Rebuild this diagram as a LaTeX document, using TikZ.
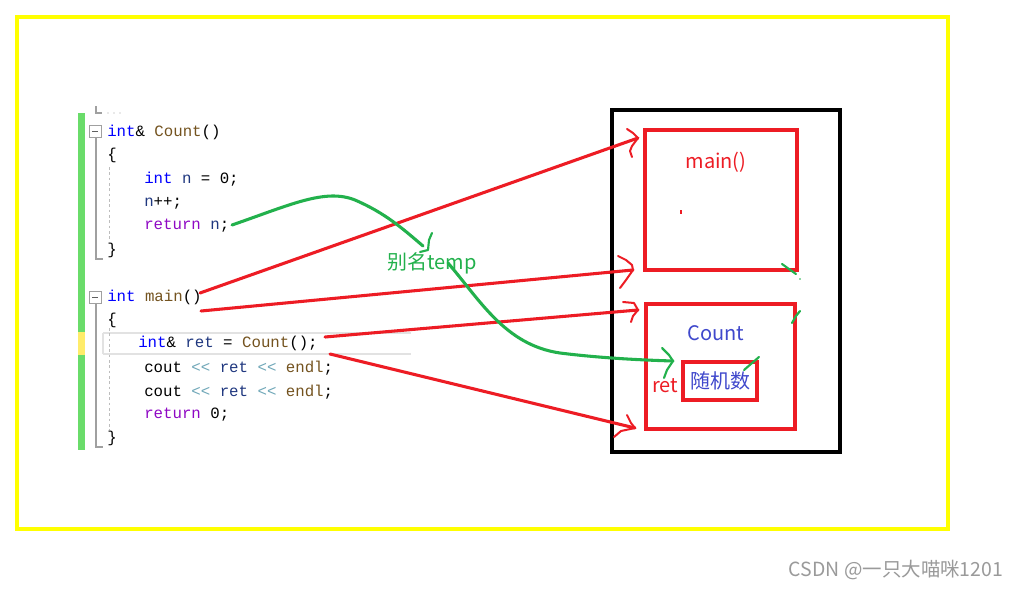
\documentclass[tikz,border=0pt]{standalone}
\usepackage{fontspec}
\setmonofont{Liberation Mono}
\newfontfamily\cjk{Noto Sans CJK SC}
\definecolor{frameyellow}{HTML}{FFFF00}
\definecolor{pred}{HTML}{ED1C24}
\definecolor{pgreen}{HTML}{22B14C}
\definecolor{pblue}{HTML}{3F48CC}
\definecolor{kwblue}{HTML}{0000FF}
\definecolor{fnbrown}{HTML}{74531F}
\definecolor{retpurple}{HTML}{8F08C4}
\definecolor{varnavy}{HTML}{1F377F}
\definecolor{opteal}{HTML}{6FA7B8}
\definecolor{barGreen}{HTML}{6ADC6A}
\definecolor{barYellow}{HTML}{FFEC6A}
\definecolor{guide}{HTML}{A0A0A0}
\definecolor{wm}{HTML}{9A9A9A}
\newcommand\ckw[1]{\textcolor{kwblue}{#1}}
\newcommand\cfn[1]{\textcolor{fnbrown}{#1}}
\newcommand\crt[1]{\textcolor{retpurple}{#1}}
\newcommand\cvr[1]{\textcolor{varnavy}{#1}}
\newcommand\cop{\textcolor{opteal}{<\kern0pt<}}
\tikzset{
  code/.style={anchor=west,inner sep=0pt,font=\fontsize{11.8}{13}\selectfont\ttfamily},
  lbl/.style={inner sep=0pt,font=\cjk\fontsize{15}{17}\selectfont},
  redbox/.style={draw=pred,line width=2.6pt},
  redarrow/.style={draw=pred,line width=2.3pt,line cap=round,line join=round},
  redhead/.style={draw=pred,line width=1.5pt,line cap=round,line join=round},
  greenline/.style={draw=pgreen,line width=2.3pt,line cap=round,line join=round},
  greenhead/.style={draw=pgreen,line width=1.6pt,line cap=round,line join=round},
  guideline/.style={draw=guide,line width=0.8pt},
  dguide/.style={draw=guide!70,line width=0.6pt,dash pattern=on 2pt off 2pt},
  foldbox/.style={draw=guide,line width=0.7pt,fill=white,minimum size=9pt,inner sep=0pt}
}
\begin{document}
\begin{tikzpicture}[x=0.75pt,y=-0.75pt]
\useasboundingbox (0,0) rectangle (1021,589);
\fill[white] (0,0) rectangle (1021,589);
% outer yellow frame
\draw[frameyellow,line width=2.3pt] (17,17) rectangle (948,529);

% editor gutter
\fill[barGreen] (78,113) rectangle (85,450);
\fill[barYellow] (78,332) rectangle (85,355);
% current-line highlight
\draw[guide!30,line width=1.4pt] (103,333) -- (411,333);
\draw[guide!30,line width=1.4pt] (103,354) -- (411,354);
\draw[guide!30,line width=1.4pt] (103,333) -- (103,354);
% structure guides
\draw[guideline] (96,106) -- (96,113) -- (102,113);
\fill[guide] (108,113) circle (0.7) (114,113) circle (0.7) (120,113) circle (0.7);
\draw[guideline] (96,138) -- (96,259) -- (103,259);
\draw[guideline] (96,304) -- (96,447) -- (103,447);
\draw[dguide] (109,167) -- (109,241);
\draw[dguide] (109,328) -- (109,430);
\node[foldbox] (f1) at (95,131) {};
\draw[guide!60!black,line width=0.7pt] (92,131) -- (98,131);
\node[foldbox] (f2) at (95,297) {};
\draw[guide!60!black,line width=0.7pt] (92,297) -- (98,297);

% code
\node[code] (c1) at (107,132) {\ckw{int}\& \cfn{Count}()};
\node[code] (c2) at (107,155) {\{};
\node[code] (c3) at (144,179) {\ckw{int} \cvr{n} = 0;};
\node[code] (c4) at (144,203) {\cvr{n}++;};
\node[code] (c5) at (144,226) {\crt{return} \cvr{n};};
\node[code] (c6) at (107,250) {\}};
\node[code] (c7) at (107,297) {\ckw{int} \cfn{main}()};
\node[code] (c8) at (107,320) {\{};
\node[code] (c9) at (138,343) {\ckw{int}\& \cvr{ret} = \cfn{Count}();};
\node[code] (c10) at (144,368) {cout \cop{} \cvr{ret} \cop{} \cfn{endl};};
\node[code] (c11) at (144,392) {cout \cop{} \cvr{ret} \cop{} \cfn{endl};};
\node[code] (c12) at (144,415) {\crt{return} 0;};
\node[code] (c13) at (107,438) {\}};

% stack frame
\draw[black,line width=2.3pt] (612,110) rectangle (840,452);
\draw[redbox] (645,130) rectangle (797,270);
\node[lbl,text=pred] (mainlbl) at (716,162) {main()};
\draw[pred,line width=0.8pt] (681,210) -- (681,214);
\draw[redbox] (646,304) rectangle (795,429);
\node[lbl,text=pblue] (countlbl) at (716,333) {Count};
\draw[redbox] (683,362) rectangle (757,400);
\node[lbl,text=pblue] (rnd) at (720,381) {随机数};
\node[lbl,text=pred] (retlbl) at (665,386) {ret};

% named connector ends
\coordinate (s1) at (200,293);
\coordinate (t1) at (638,138);
\coordinate (s2) at (201,311);
\coordinate (t2) at (633,270);
\coordinate (s3) at (325,337);
\coordinate (t3) at (638,310);
\coordinate (s4) at (330,354);
\coordinate (t4) at (635,428);
\coordinate (g1) at (232,225);
\coordinate (g1e) at (423,246);
\coordinate (g2) at (448,263);
\coordinate (g2e) at (673,361);

% red arrows
\draw[redarrow] (s1) -- (t1);
\draw[redhead] (627,129) -- (633,133) -- (t1) -- (632,146) -- (630,151) -- (632,157);
\draw[redarrow] (s2) -- (t2);
\draw[redhead] (618,256) -- (626,260) -- (632,265) -- (t2) -- (626,280) -- (620,288);
\draw[redarrow] (s3) -- (t3);
\draw[redhead] (623,302) -- (634,303) -- (t3) -- (633,316) -- (631,322);
\draw[redarrow] (s4) -- (t4);
\draw[redhead] (627,415) -- (631,423) -- (t4) -- (621,431) -- (614,437);

% green alias curves
\draw[greenline] (g1) .. controls (290,205) and (325,188) .. (355,200) .. controls (385,213) and (402,228) .. (g1e);
\draw[greenhead] (420,252) -- (428,250) -- (429,240) -- (432,233);
\node[lbl,text=pgreen] (alias) at (432,263) {别名temp};
\draw[greenline] (g2) .. controls (480,300) and (505,345) .. (560,353) .. controls (600,358) and (640,360) .. (g2e);
\draw[greenhead] (662,348) -- (669,355) -- (g2e) -- (667,370) -- (664,378);
\draw[greenhead] (782,264) -- (796,274);
\fill[pgreen] (800,279) circle (0.8);
\draw[greenhead] (792,323) -- (796,316) -- (800,311);
\draw[greenhead] (744,370) -- (759,357);

% watermark
\node[inner sep=0pt,text=wm,font=\cjk\fontsize{14.6}{16}\selectfont] (wmk) at (896,570) {CSDN @一只大喵咪1201};
\end{tikzpicture}
\end{document}
